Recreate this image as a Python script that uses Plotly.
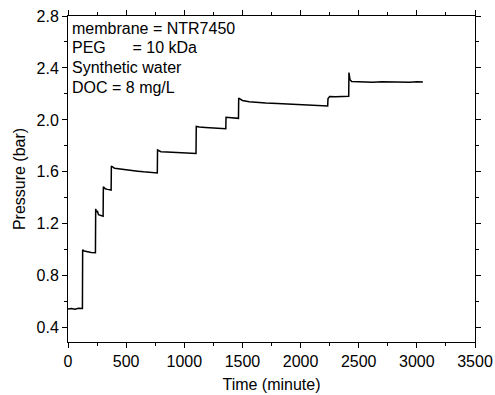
import plotly.graph_objects as go

# Time (minute)
time_min = [0, 30, 60, 90, 124,
            126, 140, 170, 200, 236,
            238, 245, 252, 262, 280, 302,
            304, 320, 340, 371,
            373, 400, 450, 500, 550, 600, 650, 700, 740, 768,
            770, 800, 850, 900, 950, 1000, 1050, 1101,
            1103, 1130, 1180, 1230, 1290, 1357,
            1359, 1400, 1440, 1466,
            1468, 1500, 1558, 1620, 1700, 1800, 1900, 2000, 2100, 2180, 2233,
            2236, 2250, 2300, 2350, 2414,
            2416, 2425, 2440, 2500, 2560, 2620, 2700, 2780, 2860, 2940, 3000, 3052]

# Pressure (bar)
pressure_bar = [0.545, 0.548, 0.543, 0.550, 0.548,
                1.000, 0.990, 0.982, 0.980, 0.978,
                1.315, 1.290, 1.300, 1.270, 1.262, 1.258,
                1.485, 1.470, 1.465, 1.460,
                1.645, 1.628, 1.622, 1.615, 1.612, 1.605, 1.600, 1.598, 1.596, 1.592,
                1.768, 1.755, 1.752, 1.750, 1.748, 1.747, 1.744, 1.742,
                1.950, 1.945, 1.942, 1.940, 1.937, 1.932,
                2.020, 2.015, 2.013, 2.012,
                2.168, 2.150, 2.140, 2.135, 2.130, 2.127, 2.122, 2.118, 2.114, 2.110, 2.108,
                2.165, 2.180, 2.178, 2.180, 2.182,
                2.365, 2.310, 2.295, 2.292, 2.294, 2.290, 2.293, 2.291, 2.294, 2.290, 2.293, 2.292]

x_ticks = [0, 500, 1000, 1500, 2000, 2500, 3000, 3500]
y_ticks = [0.4, 0.8, 1.2, 1.6, 2.0, 2.4, 2.8]
y_tick_text = ["0.4", "0.8", "1.2", "1.6", "2.0", "2.4", "2.8"]
info_lines = ["membrane = NTR7450",
              "PEG\u00a0\u00a0\u00a0\u00a0\u00a0 = 10 kDa",
              "Synthetic water",
              "DOC = 8 mg/L"]

fig = go.Figure()
fig.add_trace(go.Scatter(x=time_min, y=pressure_bar, mode="lines",
                         line=dict(color="black", width=1.5), showlegend=False))

font = "Liberation Sans, Arial, sans-serif"
axis_common = dict(showline=True, linecolor="black", linewidth=1, mirror="ticks",
                   ticks="outside", ticklen=5, tickwidth=1, tickcolor="black",
                   showgrid=False, zeroline=False, automargin=False,
                   tickfont=dict(family=font, size=16, color="black"))

fig.update_xaxes(range=[0, 3500], tickvals=x_ticks,
                 minor=dict(ticks="outside", ticklen=3, dtick=250, tick0=0, tickcolor="black", showgrid=False),
                 title=dict(text="Time (minute)", font=dict(family=font, size=16, color="black"), standoff=9),
                 **axis_common)
fig.update_yaxes(range=[0.29, 2.8], tickvals=y_ticks, ticktext=y_tick_text,
                 minor=dict(ticks="outside", ticklen=3, dtick=0.2, tick0=0.4, tickcolor="black", showgrid=False),
                 title=dict(text="Pressure (bar)", font=dict(family=font, size=16, color="black"), standoff=6),
                 **axis_common)

ys = [0.962, 0.902, 0.842, 0.782]
for line, yy in zip(info_lines, ys):
    fig.add_annotation(x=0.006, y=yy, xref="paper", yref="paper", text=line,
                       showarrow=False, xanchor="left", yanchor="middle",
                       font=dict(family=font, size=16, color="black"))

fig.update_layout(width=495, height=395, margin=dict(l=68, r=20, t=16, b=53),
                  plot_bgcolor="white", paper_bgcolor="white")
fig.write_html("out.html")
